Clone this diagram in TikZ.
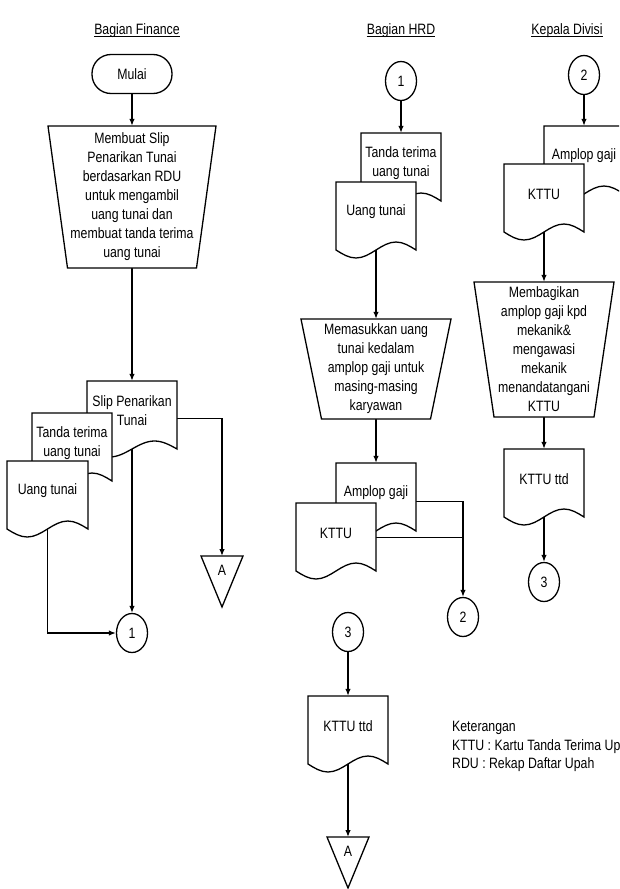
\documentclass[tikz,border=0pt]{standalone}
\usepackage{fontspec}
\setmainfont{Liberation Sans}[FakeStretch=0.82]
\usetikzlibrary{shapes.geometric,arrows.meta,calc}
\pgfdeclarelayer{bg}
\pgfsetlayers{bg,main}
\tikzset{
  shp/.style={draw=black, line width=1.3pt, fill=white, line join=miter},
  conn/.style={draw=black, line width=1.3pt},
  arr/.style={conn, -{Latex[length=7pt,width=5.5pt]}},
  docnode/.style={rectangle, draw=none, inner sep=0pt, minimum height=60pt, align=center},
  term/.style={rectangle, rounded corners=19pt, shp, minimum width=80pt, minimum height=39pt, inner sep=0pt},
  conell/.style={ellipse, shp, minimum width=31pt, minimum height=39pt, inner sep=0pt},
  title/.style={anchor=base, inner sep=0pt},
  procnode/.style={rectangle, draw=none, inner sep=0pt, align=center},
  uline/.style={draw=black, line width=0.9pt},
}
\newcommand\docu[5]{%
  \draw[shp] (#2,#3) -- ++(#4,0) -- ++(0,68) sin ++(-#4/4,-8) cos ++(-#4/4,8) sin ++(-#4/4,8) cos ++(-#4/4,-8) -- cycle;
  \node[docnode, minimum width=#4] (#1) at (#2+#4/2,#3+30) {#5};}
\newcommand\trap[7]{%
  \draw[shp] (#2-#4/2,#3-#5/2) -- (#2+#4/2,#3-#5/2) -- (#2+#4/2-#6,#3+#5/2) -- (#2-#4/2+#6,#3+#5/2) -- cycle;
  \node[procnode, minimum width=#4, minimum height=#5] (#1) at (#2,#3) {#7};}
\newcommand\offpage[3]{%
  \draw[shp] (#2-21,#3) -- (#2+21,#3) -- (#2,#3+51) -- cycle;
  \node[rectangle, draw=none, inner sep=0pt, minimum width=42pt, minimum height=28pt, anchor=north] (#1) at (#2,#3) {A};}
\newcommand\ttl[3]{%
  \node[title] (#1) at (#2,34.5) {#3};
  \draw[uline] ($(#1.base west)+(0,2.2)$) -- ($(#1.base east)+(0,2.2)$);}
\begin{document}
\begin{tikzpicture}[x=1pt, y=-1pt, font=\fontsize{15}{19}\selectfont]
\useasboundingbox (0,0) rectangle (619,889);
\clip (0,0) rectangle (619,889);

% titles
\ttl{tF}{137}{Bagian Finance}
\ttl{tH}{401}{Bagian HRD}
\ttl{tK}{567}{Kepala Divisi}

% ---------- Finance ----------
\node[term] (start) at (132,74) {Mulai};
\trap{p1}{132}{197}{168}{142}{19.5}{Membuat Slip\\Penarikan Tunai\\berdasarkan RDU\\untuk mengambil\\uang tunai dan\\membuat tanda terima\\uang tunai}
\docu{slip}{87}{381}{90}{Slip Penarikan\\Tunai}
\docu{tt1}{32}{413}{80}{Tanda terima\\uang tunai}
\docu{ut1}{7}{461}{81}{Uang tunai}
\offpage{A1}{222}{556}
\node[conell] (c1F) at (132,633) {1};

% ---------- HRD ----------
\node[conell] (c1H) at (401,81) {1};
\docu{tt2}{361}{133}{80}{Tanda terima\\uang tunai}
\docu{ut2}{336}{182}{80}{Uang tunai}
\trap{p2}{376}{369}{150}{100}{20.5}{Memasukkan uang\\tunai kedalam\\amplop gaji untuk\\masing-masing\\karyawan}
\docu{am2}{336}{463}{80}{Amplop gaji}
\docu{kt2}{296}{503}{80}{KTTU}
\node[conell] (c2H) at (463,617) {2};
\node[conell] (c3H) at (348,632) {3};
\docu{kd2}{308}{696}{80}{KTTU ttd}
\offpage{A2}{348}{837}

% ---------- Kepala Divisi ----------
\node[conell] (c2K) at (584,75) {2};
\docu{am3}{544}{126}{80}{Amplop gaji}
\docu{kt3}{504}{164}{80}{KTTU}
\trap{p3}{544}{349.5}{140}{135}{20}{Membagikan\\amplop gaji kpd\\mekanik\&\\mengawasi\\mekanik\\menandatangani\\KTTU}
\docu{kd3}{504}{449}{80}{KTTU ttd}
\node[conell] (c3K) at (544,582) {3};

% legend
\node[anchor=north west, align=left, inner sep=0pt, font=\fontsize{15}{18.5}\selectfont] (ket) at (452,721) {Keterangan\\KTTU : Kartu Tanda Terima Upah\\RDU : Rekap Daftar Upah};

% ---------- connectors ----------
\begin{pgfonlayer}{bg}
  \coordinate (slipR) at ($(slip.north east)+(0,38)$);
  \coordinate (am2R) at ($(am2.north east)+(0,39)$);
  \coordinate (kt2R) at ($(kt2.north east)+(0,35)$);
  \draw[arr] (start.south) -- (p1.north);
  \draw[arr] (p1.south) -- (slip.north);
  \draw[arr] (slip.center) -- (c1F.north);
  \draw[arr] (slipR) -| (A1.north);
  \draw[arr] (ut1.center) |- (c1F.west);

  \draw[arr] (c1H.south) -- (tt2.north);
  \draw[arr] (ut2.center) -- (p2.north);
  \draw[arr] (p2.south) -- (am2.north);
  \draw[arr] (am2R) -| (c2H.north);
  \draw[conn] (kt2R) -- (kt2R -| c2H.north);
  \draw[arr] (c3H.south) -- (kd2.north);
  \draw[arr] (kd2.center) -- (A2.north);

  \draw[arr] (c2K.south) -- (am3.north);
  \draw[arr] (kt3.center) -- (p3.north);
  \draw[arr] (p3.south) -- (kd3.north);
  \draw[arr] (kd3.center) -- (c3K.north);
\end{pgfonlayer}
\end{tikzpicture}
\end{document}
